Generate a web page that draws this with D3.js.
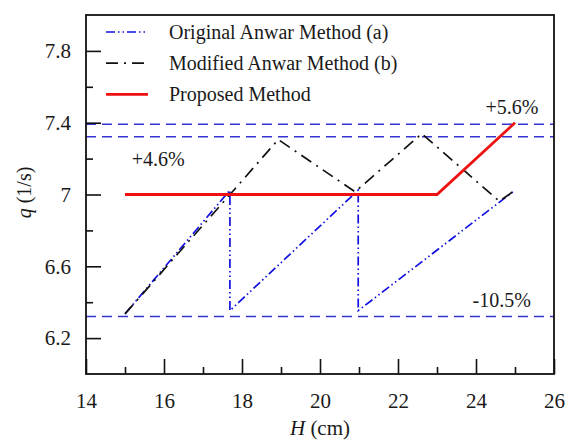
<!DOCTYPE html>
<html>
<head>
<meta charset="utf-8">
<script src="https://cdn.jsdelivr.net/npm/d3@7"></script>
<style>
  html, body { margin: 0; padding: 0; background: #fff; }
  svg { display: block; }
  svg text { font-family: "Liberation Serif", "DejaVu Serif", "Times New Roman", serif !important; fill: #1a1a1a; }
</style>
</head>
<body>
<svg id="chart" width="568" height="442"></svg>
<script>
// Flow rate q (l/s) versus head H (cm) for three methods
const originalH = [15, 17.69, 17.69, 20.98, 20.98, 25];
const originalQ = [6.335, 7.024, 6.353, 7.024, 6.353, 7.024];

const modifiedH = [15, 18.93, 20.9, 22.61, 24.6, 25];
const modifiedQ = [6.335, 7.306, 7.015, 7.339, 6.962, 7.024];

const proposedH = [15, 23, 25];
const proposedQ = [7.0, 7.0, 7.4];

// Deviation bands
const bandQ = [7.392, 7.322, 6.32];
const bandLabels = ["+5.6%", "+4.6%", "-10.5%"];

const seriesNames = ["Original Anwar Method (a)", "Modified Anwar Method (b)", "Proposed Method"];

const xMajorTicks = [14, 16, 18, 20, 22, 24, 26];
const xMinorTicks = [15, 17, 19, 21, 23, 25];
const yMajorTicks = [6.2, 6.6, 7.0, 7.4, 7.8];
const yTickLabels = ["6.2", "6.6", "7", "7.4", "7.8"];
const yMinorTicks = [6.4, 6.8, 7.2, 7.6];

const SERIF = "'Liberation Serif', 'DejaVu Serif', 'Times New Roman', serif";

const W = 568, H = 442;
const margin = { top: 15, right: 14, bottom: 68, left: 86 };
const iw = W - margin.left - margin.right;
const ih = H - margin.top - margin.bottom;

const svg = d3.select("#chart");
const g = svg.append("g").attr("transform", `translate(${margin.left},${margin.top})`);

const x = d3.scaleLinear().domain([14, 26]).range([0, iw]);
const y = d3.scaleLinear().domain([6.0, 8.0]).range([ih, 0]);

const styles = [
  { stroke: "#1010e0", width: 1.7, dash: "9,3,1.5,3,1.5,3" },
  { stroke: "#111111", width: 1.7, dash: "12,6,2,6" },
  { stroke: "#ee1111", width: 2.8, dash: null }
];

// Horizontal deviation bands
g.selectAll("line.band").data(bandQ).join("line")
  .attr("class", "band")
  .attr("x1", 0).attr("x2", iw)
  .attr("y1", d => y(d)).attr("y2", d => y(d))
  .attr("stroke", "#3434d0").attr("stroke-width", 1.5)
  .attr("stroke-dasharray", "10,6");

// Series lines
const line = d3.line().x(d => x(d[0])).y(d => y(d[1]));
const series = [
  d3.zip(originalH, originalQ),
  d3.zip(modifiedH, modifiedQ),
  d3.zip(proposedH, proposedQ)
];
series.forEach((pts, i) => {
  g.append("path")
    .datum(pts)
    .attr("d", line)
    .attr("fill", "none")
    .attr("stroke", styles[i].stroke)
    .attr("stroke-width", styles[i].width)
    .attr("stroke-dasharray", styles[i].dash)
    .attr("stroke-linejoin", "miter");
});

// Band labels
const bandLabelPos = [
  { h: 24.92, dq: 0.054 },
  { h: 15.85, dq: -0.166 },
  { h: 24.66, dq: 0.052 }
];
bandLabels.forEach((t, i) => {
  g.append("text")
    .attr("x", x(bandLabelPos[i].h))
    .attr("y", y(bandQ[i] + bandLabelPos[i].dq))
    .attr("text-anchor", "middle")
    .style("font-family", SERIF)
    .attr("font-size", 20)
    .text(t);
});

// Axes with inward ticks
const axisFont = 21;
const yMajor = g.append("g").call(
  d3.axisLeft(y).tickValues(yMajorTicks).tickSize(-15).tickPadding(15)
    .tickFormat((d, i) => yTickLabels[i]));
const yMinor = g.append("g").call(
  d3.axisLeft(y).tickValues(yMinorTicks).tickSize(-7).tickFormat(""));
const xMajor = g.append("g").attr("transform", `translate(0,${ih})`).call(
  d3.axisBottom(x).tickValues(xMajorTicks).tickSize(-15).tickPadding(19)
    .tickFormat(d3.format("d")));
const xMinor = g.append("g").attr("transform", `translate(0,${ih})`).call(
  d3.axisBottom(x).tickValues(xMinorTicks).tickSize(-7).tickFormat(""));

[yMajor, yMinor, xMajor, xMinor].forEach(a => {
  a.attr("font-family", null).attr("font-size", null);
  a.select(".domain").remove();
  a.selectAll(".tick line").attr("stroke", "#111").attr("stroke-width", 1.6);
  a.selectAll(".tick text")
    .style("font-family", SERIF)
    .style("font-size", axisFont + "px")
    .attr("fill", "#1a1a1a");
});

// Frame
g.append("rect")
  .attr("x", 0).attr("y", 0).attr("width", iw).attr("height", ih)
  .attr("fill", "none").attr("stroke", "#111").attr("stroke-width", 1.8);

// Axis titles
const xTitle = svg.append("text")
  .attr("x", margin.left + iw / 2).attr("y", 435)
  .attr("text-anchor", "middle")
  .style("font-family", SERIF).attr("font-size", 21);
xTitle.append("tspan").attr("font-style", "italic").text("H");
xTitle.append("tspan").text(" (cm)");

const yTitle = svg.append("text")
  .attr("transform", `translate(31,${margin.top + ih / 2 - 2}) rotate(-90)`)
  .attr("text-anchor", "middle")
  .style("font-family", SERIF).attr("font-size", 20);
yTitle.append("tspan").attr("font-style", "italic").text("q");
yTitle.append("tspan").text(" (1/s)");

// Legend
const legend = g.append("g").attr("transform", "translate(20,17)");
seriesNames.forEach((name, i) => {
  const row = legend.append("g").attr("transform", `translate(0,${i * 31.2})`);
  row.append("line")
    .attr("x1", 0).attr("x2", 42).attr("y1", 0).attr("y2", 0)
    .attr("stroke", styles[i].stroke)
    .attr("stroke-width", styles[i].width)
    .attr("stroke-dasharray", styles[i].dash);
  row.append("text")
    .attr("x", 63).attr("y", 6.5)
    .style("font-family", SERIF)
    .attr("font-size", 20)
    .text(name);
});
</script>
</body>
</html>
